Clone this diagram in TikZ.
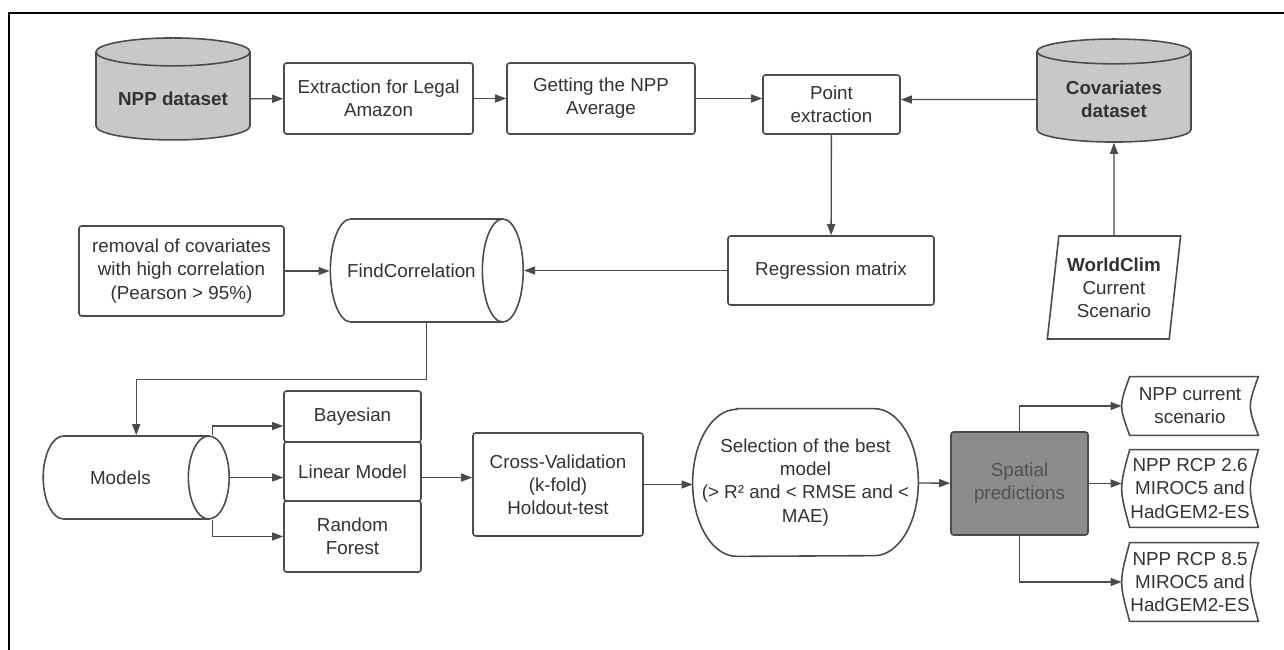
\documentclass[tikz,border=0pt]{standalone}
\usepackage{fontspec}
\setmainfont{Liberation Sans}
\usetikzlibrary{shapes,arrows.meta,calc}
\definecolor{edgecol}{RGB}{75,75,75}
\definecolor{textcol}{RGB}{50,50,50}
\definecolor{dbgray}{RGB}{200,200,200}
\definecolor{predgray}{RGB}{140,140,140}
\definecolor{predtext}{RGB}{80,80,80}

\begin{document}
\begin{tikzpicture}[x=0.2mm, y=-0.2mm,
	font=\fontsize{10.7}{13.2}\selectfont, text=textcol,
	>={Triangle[length=2.2mm,width=1.6mm]},
	edge/.style={draw=edgecol, line width=0.75pt},
	outline/.style={draw=edgecol, line width=0.9pt},
	box/.style 2 args={
		rectangle,
		outline,
		rounded corners=1.5pt,
		align=center,
		inner sep=1pt,
		minimum width=#1,
		minimum height=#2},
	db/.style 2 args={
		cylinder,
		shape border rotate=90,
		outline,
		fill=dbgray,
		aspect=0.23,
		align=center,
		font=\fontsize{10.7}{13.2}\selectfont\bfseries,
		minimum width=#1,
		minimum height=#2},
	pipe/.style n args={3}{
		cylinder,
		outline,
		align=center,
		anchor=top,
		aspect=#3,
		minimum width=#1,
		minimum height=#2},
	src/.style={
		trapezium,
		trapezium left angle=81,
		trapezium right angle=99,
		trapezium stretches=true,
		outline,
		align=center,
		inner sep=1pt,
		minimum width=26.8mm,
		minimum height=20.6mm},
	store/.style={
		rectangle,
		align=center,
		inner sep=1pt,
		minimum width=27.2mm,
		minimum height=#1}]
	\useasboundingbox (0,0) rectangle (1284,650);
	% frame
	\draw[line width=1pt] (9,650) -- (9,13) -- (1284,13);
	% draw datasets and top row
	\node[db={30.8mm}{20.4mm}] (npp) at (173,99) {NPP dataset};
	\node[box={37.8mm}{14.2mm}] (extr) at (378.5,98.5) {Extraction for Legal\\Amazon};
	\node[box={37.6mm}{14.2mm}] (avg) at (601,98.5) {Getting the NPP\\Average};
	\node[box={27.4mm}{11.8mm}] (pts) at (831.5,104.5) {Point\\extraction};
	\node[db={30.8mm}{20.6mm}] (cov) at (1114,99.5) {Covariates\\dataset};
	% draw middle row
	\node[box={41mm}{18mm}] (rem) at (181.5,271) {removal of covariates\\with high correlation\\(Pearson > 95\%)};
	\node[pipe={20.6mm}{38mm}{1.6}] (fcor) at (524,270.5) {FindCorrelation};
	\node[box={41.2mm}{13.8mm}] (regr) at (831,270.5) {Regression matrix};
	\node[src] (wclim) at (1114,287.5) {\textbf{WorldClim}\\Current\\Scenario};
	% draw models and the stack of methods
	\node[pipe={16.6mm}{37.2mm}{1.6}] (mdl) at (230,477.5) {Models};
	\foreach \n/\y/\h/\t in {bay/416.5/10.2mm/Bayesian, lin/471.5/11.8mm/Linear Model, rnd/536.5/14.2mm/{Random\\Forest}}
	\node[box={27.4mm}{\h}] (\n) at (352.5,\y) {\t};
	\node[box={34mm}{20.6mm}] (cv) at (558,484.5) {Cross-Validation\\(k-fold)\\Holdout-test};
	% selection node, outline drawn by hand
	\node[rectangle, align=center, minimum width=45mm, minimum height=29.4mm] (sel) at (805.5,482.5) {Selection of the best\\model\\(> R² and < RMSE and <\\MAE)};
	\draw[outline] ([xshift=8.8mm]sel.north west) -- ([xshift=-8.8mm]sel.north east)
		arc[start angle=90, end angle=-90, x radius=8.8mm, y radius=14.7mm]
		-- ([xshift=8.8mm]sel.south west)
		arc[start angle=270, end angle=90, x radius=8.8mm, y radius=14.7mm] -- cycle;
	\node[box={27.4mm}{20.6mm}, fill=predgray, text=predtext] (spt) at (1019.5,483.5) {Spatial\\predictions};
	% draw output maps
	\foreach \n/\y/\h/\t in {cur/406/11.6mm/{NPP current\\scenario}, rcpa/488.5/15.4mm/{NPP RCP 2.6\\MIROC5 and\\HadGEM2-ES}, rcpb/582/15.6mm/{NPP RCP 8.5\\MIROC5 and\\HadGEM2-ES}} {
		\node[store={\h}] (\n) at (1190,\y) {\t};
		\draw[outline] ([xshift=1.6mm]\n.north west) -- (\n.north east)
			.. controls ([xshift=-2.13mm]\n.east) .. (\n.south east)
			-- ([xshift=1.6mm]\n.south west)
			.. controls ([xshift=-0.53mm]\n.west) .. ([xshift=1.6mm]\n.north west) -- cycle;
	}
	% draw links of the top row
	\draw[edge,->] (npp) -- (extr);
	\draw[edge,->] (extr) -- (avg);
	\draw[edge,->] (avg.east) -- (avg.east -| pts.west);
	\draw[edge,->] (cov) -- (cov -| pts.east);
	\draw[edge,->] (pts) -- (regr);
	\draw[edge,->] (wclim) -- (cov);
	% draw links of the middle row
	\draw[edge,->] (rem) -- (rem -| fcor.west);
	\draw[edge,->] (regr) -- (fcor.top);
	\draw[edge,->] (fcor.shape center |- fcor.south) -- ++(0,57) -| (mdl.shape center |- mdl.north);
	% draw links of the bottom row
	\draw[edge,->] ($(mdl.north -| mdl.top)+(-17.5,0)$) |- ([yshift=-1.9mm]bay.west);
	\draw[edge,->] (mdl.top) -- (mdl.top -| lin.west);
	\draw[edge,->] ($(mdl.south -| mdl.top)+(-17.5,0)$) |- (rnd.west);
	\draw[edge,->] (lin.east |- mdl.top) -- (cv.west |- mdl.top);
	\draw[edge,->] (cv.east) -- (cv.east -| sel.west);
	\draw[edge,->] (sel) -- (spt);
	\draw[edge,->] (spt.north) |- (cur.west);
	\draw[edge,->] (spt.east) -- (spt.east -| rcpa.west);
	\draw[edge,->] (spt.south) |- (rcpb.west);
\end{tikzpicture}
\end{document}
